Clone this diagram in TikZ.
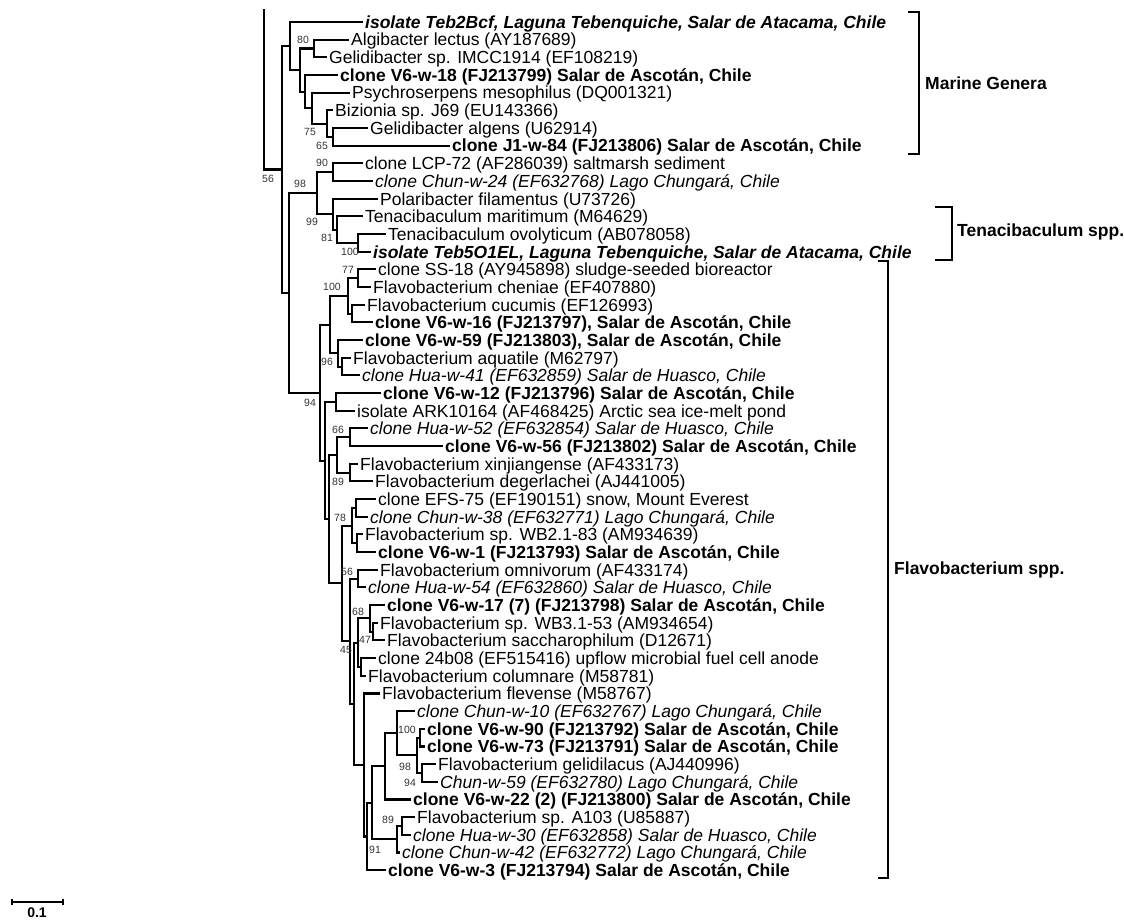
\documentclass[tikz,border=0pt]{standalone}
\usepackage{fontspec}
\setmainfont{Liberation Sans}
\usetikzlibrary{calc}
\begin{document}
\begin{tikzpicture}[x=1pt,y=-1pt,
  br/.style={line width=2.1pt, line join=miter, line cap=rect},
  leaf/.style={anchor=west, inner xsep=3pt, inner ysep=0pt, text height=12.6pt, text depth=0pt, font=\fontsize{17.5}{20}\selectfont},
  bf/.style={leaf, font=\fontsize{17.5}{20}\selectfont\bfseries},
  it/.style={leaf, font=\fontsize{17.5}{20}\selectfont\itshape},
  bi/.style={leaf, font=\fontsize{17.5}{20}\selectfont\bfseries\itshape},
  boot/.style={inner sep=0pt, text=black!80, font=\fontsize{10.5}{12}\selectfont},
  grp/.style={anchor=west, inner sep=0pt, font=\fontsize{17.5}{20}\selectfont\bfseries},
  brk/.style={line width=2.1pt}]
\useasboundingbox (0,0) rectangle (1124,923);

% ---------- leaves ----------
\node[bi]   (L1)  at (362,22.0)  {isolate Teb2Bcf, Laguna Tebenquiche, Salar de Atacama, Chile};
\node[leaf] (L2)  at (348,39.7)  {Algibacter lectus (AY187689)};
\node[leaf] (L3)  at (326,57.3)  {Gelidibacter sp. IMCC1914 (EF108219)};
\node[bf]   (L4)  at (337,75.0)  {clone V6-w-18 (FJ213799) Salar de Ascotán, Chile};
\node[leaf] (L5)  at (349,92.7)  {Psychroserpens mesophilus (DQ001321)};
\node[leaf] (L6)  at (332,110.4) {Bizionia sp. J69 (EU143366)};
\node[leaf] (L7)  at (367,128.0) {Gelidibacter algens (U62914)};
\node[bf]   (L8)  at (449,145.7) {clone J1-w-84 (FJ213806) Salar de Ascotán, Chile};
\node[leaf] (L9)  at (362,163.4) {clone LCP-72 (AF286039) saltmarsh sediment};
\node[it]   (L10) at (372,181.0) {clone Chun-w-24 (EF632768) Lago Chungará, Chile};
\node[leaf] (L11) at (377,198.7) {Polaribacter filamentus (U73726)};
\node[leaf] (L12) at (362,216.4) {Tenacibaculum maritimum (M64629)};
\node[leaf] (L13) at (385,234.0) {Tenacibaculum ovolyticum (AB078058)};
\node[bi]   (L14) at (370,251.7) {isolate Teb5O1EL, Laguna Tebenquiche, Salar de Atacama, Chile};
\node[leaf] (L15) at (375,269.4) {clone SS-18 (AY945898) sludge-seeded bioreactor};
\node[leaf] (L16) at (370,287.1) {Flavobacterium cheniae (EF407880)};
\node[leaf] (L17) at (364,304.7) {Flavobacterium cucumis (EF126993)};
\node[bf]   (L18) at (372,322.4) {clone V6-w-16 (FJ213797), Salar de Ascotán, Chile};
\node[bf]   (L19) at (362,340.1) {clone V6-w-59 (FJ213803), Salar de Ascotán, Chile};
\node[leaf] (L20) at (350,357.7) {Flavobacterium aquatile (M62797)};
\node[it]   (L21) at (359,375.4) {clone Hua-w-41 (EF632859) Salar de Huasco, Chile};
\node[bf]   (L22) at (380,393.1) {clone V6-w-12 (FJ213796) Salar de Ascotán, Chile};
\node[leaf] (L23) at (354,410.7) {isolate ARK10164 (AF468425) Arctic sea ice-melt pond};
\node[it]   (L24) at (367,428.4) {clone Hua-w-52 (EF632854) Salar de Huasco, Chile};
\node[bf]   (L25) at (442,446.1) {clone V6-w-56 (FJ213802) Salar de Ascotán, Chile};
\node[leaf] (L26) at (357,463.8) {Flavobacterium xinjiangense (AF433173)};
\node[leaf] (L27) at (372,481.4) {Flavobacterium degerlachei (AJ441005)};
\node[leaf] (L28) at (375,499.1) {clone EFS-75 (EF190151) snow, Mount Everest};
\node[it]   (L29) at (367,516.8) {clone Chun-w-38 (EF632771) Lago Chungará, Chile};
\node[leaf] (L30) at (362,534.4) {Flavobacterium sp. WB2.1-83 (AM934639)};
\node[bf]   (L31) at (375,552.1) {clone V6-w-1 (FJ213793) Salar de Ascotán, Chile};
\node[leaf] (L32) at (377,569.8) {Flavobacterium omnivorum (AF433174)};
\node[it]   (L33) at (365,587.4) {clone Hua-w-54 (EF632860) Salar de Huasco, Chile};
\node[bf]   (L34) at (384,605.1) {clone V6-w-17 (7) (FJ213798) Salar de Ascotán, Chile};
\node[leaf] (L35) at (377,622.8) {Flavobacterium sp. WB3.1-53 (AM934654)};
\node[leaf] (L36) at (384,640.4) {Flavobacterium saccharophilum (D12671)};
\node[leaf] (L37) at (375,658.1) {clone 24b08 (EF515416) upflow microbial fuel cell anode};
\node[leaf] (L38) at (365,675.8) {Flavobacterium columnare (M58781)};
\node[leaf] (L39) at (379,693.5) {Flavobacterium flevense (M58767)};
\node[it]   (L40) at (414,711.1) {clone Chun-w-10 (EF632767) Lago Chungará, Chile};
\node[bf]   (L41) at (424,728.8) {clone V6-w-90 (FJ213792) Salar de Ascotán, Chile};
\node[bf]   (L42) at (424,746.5) {clone V6-w-73 (FJ213791) Salar de Ascotán, Chile};
\node[leaf] (L43) at (435,764.1) {Flavobacterium gelidilacus (AJ440996)};
\node[it]   (L44) at (437,781.8) {Chun-w-59 (EF632780) Lago Chungará, Chile};
\node[bf]   (L45) at (410,799.5) {clone V6-w-22 (2) (FJ213800) Salar de Ascotán, Chile};
\node[leaf] (L46) at (414,817.1) {Flavobacterium sp. A103 (U85887)};
\node[it]   (L47) at (410,834.8) {clone Hua-w-30 (EF632858) Salar de Huasco, Chile};
\node[it]   (L48) at (399,852.5) {clone Chun-w-42 (EF632772) Lago Chungará, Chile};
\node[bf]   (L49) at (385,870.1) {clone V6-w-3 (FJ213794) Salar de Ascotán, Chile};

% ---------- internal nodes ----------
\coordinate (roottop) at (264,10);
\coordinate (root) at (264,169.5);
\coordinate (nTop) at (282,169.5);
\coordinate (nM1) at (290,46.0);
\coordinate (nM2) at (300,70.0);
\coordinate (n80) at (314,48.5);
\coordinate (nV6) at (305,91.6);
\coordinate (nPsy) at (312,108.2);
\coordinate (nBiz) at (327,123.6);
\coordinate (n65) at (333,136.9);
\coordinate (nRest) at (289,292.9);
\coordinate (n98) at (317,193.2);
\coordinate (n90) at (333,172.2);
\coordinate (nQ) at (333,214.2);
\coordinate (nR) at (337,229.6);
\coordinate (nS) at (358,242.9);
\coordinate (nF) at (320,392.6);
\coordinate (nA) at (330,324.6);
\coordinate (n100) at (348,295.9);
\coordinate (n77) at (358,278.2);
\coordinate (nCU) at (352,313.6);
\coordinate (n96) at (338,353.4);
\coordinate (nAq) at (342,366.6);
\coordinate (nB) at (325,460.6);
\coordinate (nV12) at (336,401.9);
\coordinate (nC) at (329,519.2);
\coordinate (nM) at (337,455.0);
\coordinate (n66) at (350,437.3);
\coordinate (n89a) at (350,472.6);
\coordinate (nD) at (342,583.4);
\coordinate (nE) at (352,525.6);
\coordinate (n78) at (356,508.0);
\coordinate (nW) at (357,543.3);
\coordinate (n45) at (350,641.3);
\coordinate (n56) at (358,578.6);
\coordinate (nI) at (354,703.9);
\coordinate (nH) at (358,642.7);
\coordinate (n68) at (370,618.4);
\coordinate (nWB) at (373,631.6);
\coordinate (nCol) at (361,667.0);
\coordinate (nZ) at (364,765.0);
\coordinate (nY) at (367,836.5);
\coordinate (nX) at (372,802.8);
\coordinate (nV22) at (385,766.4);
\coordinate (nC10) at (397,733.2);
\coordinate (n98b) at (417,755.3);
\coordinate (n100b) at (420,737.7);
\coordinate (n94) at (422,773.0);
\coordinate (n91) at (397,839.2);
\coordinate (n89) at (402,826.0);

% ---------- branches ----------
\draw[br] (roottop) -- (root) -- (nTop);
\draw[br] (nTop) |- (nM1);  \draw[br] (nTop) |- (nRest);
\draw[br] (nM1) |- (L1.west); \draw[br] (nM1) |- (nM2);
\draw[br] (nM2) |- (n80); \draw[br] (nM2) |- (nV6);
\draw[br] (n80) |- (L2.west); \draw[br] (n80) |- (L3.west);
\draw[br] (nV6) |- (L4.west); \draw[br] (nV6) |- (nPsy);
\draw[br] (nPsy) |- (L5.west); \draw[br] (nPsy) |- (nBiz);
\draw[br] (nBiz) |- (L6.west); \draw[br] (nBiz) |- (n65);
\draw[br] (n65) |- (L7.west); \draw[br] (n65) |- (L8.west);
\draw[br] (nRest) |- (n98); \draw[br] (nRest) |- (nF);
\draw[br] (n98) |- (n90); \draw[br] (n98) |- (nQ);
\draw[br] (n90) |- (L9.west); \draw[br] (n90) |- (L10.west);
\draw[br] (nQ) |- (L11.west); \draw[br] (nQ) |- (nR);
\draw[br] (nR) |- (L12.west); \draw[br] (nR) |- (nS);
\draw[br] (nS) |- (L13.west); \draw[br] (nS) |- (L14.west);
\draw[br] (nF) |- (nA); \draw[br] (nF) |- (nB);
\draw[br] (nA) |- (n100); \draw[br] (nA) |- (n96);
\draw[br] (n100) |- (n77); \draw[br] (n100) |- (nCU);
\draw[br] (n77) |- (L15.west); \draw[br] (n77) |- (L16.west);
\draw[br] (nCU) |- (L17.west); \draw[br] (nCU) |- (L18.west);
\draw[br] (n96) |- (L19.west); \draw[br] (n96) |- (nAq);
\draw[br] (nAq) |- (L20.west); \draw[br] (nAq) |- (L21.west);
\draw[br] (nB) |- (nV12); \draw[br] (nB) |- (nC);
\draw[br] (nV12) |- (L22.west); \draw[br] (nV12) |- (L23.west);
\draw[br] (nC) |- (nM); \draw[br] (nC) |- (nD);
\draw[br] (nM) |- (n66); \draw[br] (nM) |- (n89a);
\draw[br] (n66) |- (L24.west); \draw[br] (n66) |- (L25.west);
\draw[br] (n89a) |- (L26.west); \draw[br] (n89a) |- (L27.west);
\draw[br] (nD) |- (nE); \draw[br] (nD) |- (n45);
\draw[br] (nE) |- (n78); \draw[br] (nE) |- (nW);
\draw[br] (n78) |- (L28.west); \draw[br] (n78) |- (L29.west);
\draw[br] (nW) |- (L30.west); \draw[br] (nW) |- (L31.west);
\draw[br] (n45) |- (n56); \draw[br] (n45) |- (nI);
\draw[br] (n56) |- (L32.west); \draw[br] (n56) |- (L33.west);
\draw[br] (nI) |- (nH); \draw[br] (nI) |- (nZ);
\draw[br] (nH) |- (n68); \draw[br] (nH) |- (nCol);
\draw[br] (n68) |- (L34.west); \draw[br] (n68) |- (nWB);
\draw[br] (nWB) |- (L35.west); \draw[br] (nWB) |- (L36.west);
\draw[br] (nCol) |- (L37.west); \draw[br] (nCol) |- (L38.west);
\draw[br] (nZ) |- (L39.west); \draw[br] (nZ) |- (nY);
\draw[br] (nY) |- (nX); \draw[br] (nY) |- (L49.west);
\draw[br] (nX) |- (nV22); \draw[br] (nX) |- (n91);
\draw[br] (nV22) |- (nC10); \draw[br] (nV22) |- (L45.west);
\draw[br] (nC10) |- (L40.west); \draw[br] (nC10) |- (n98b);
\draw[br] (n98b) |- (n100b); \draw[br] (n98b) |- (n94);
\draw[br] (n100b) |- (L41.west); \draw[br] (n100b) |- (L42.west);
\draw[br] (n94) |- (L43.west); \draw[br] (n94) |- (L44.west);
\draw[br] (n91) |- (n89); \draw[br] (n91) |- (L48.west);
\draw[br] (n89) |- (L46.west); \draw[br] (n89) |- (L47.west);

% ---------- bootstrap values ----------
\node[boot] (b1) at (303,40) {80};
\node[boot] (b2) at (310,132) {75};
\node[boot] (b3) at (322,146) {65};
\node[boot] (b4) at (268,179) {56};
\node[boot] (b5) at (322,163) {90};
\node[boot] (b6) at (300,184) {98};
\node[boot] (b7) at (312,222) {99};
\node[boot] (b8) at (327,238) {81};
\node[boot] (b9) at (350,252) {100};
\node[boot] (b10) at (348,270) {77};
\node[boot] (b11) at (332,287) {100};
\node[boot] (b12) at (327,362) {96};
\node[boot] (b13) at (310,403) {94};
\node[boot] (b14) at (338,430) {66};
\node[boot] (b15) at (338,482) {89};
\node[boot] (b16) at (340,518) {78};
\node[boot] (b17) at (347,572) {56};
\node[boot] (b18) at (358,612) {68};
\node[boot] (b19) at (365,640) {47};
\node[boot] (b20) at (346,650) {45};
\node[boot] (b21) at (407,730) {100};
\node[boot] (b22) at (405,767) {98};
\node[boot] (b23) at (410,783) {94};
\node[boot] (b24) at (388,820) {89};
\node[boot] (b25) at (375,850) {91};

% ---------- group brackets ----------
\coordinate (mgT) at (908,12);  \coordinate (mgB) at (908,154);
\draw[brk] (mgT) -| (919,83) |- (mgB);
\node[grp] (mg) at (925,83) {Marine Genera};
\coordinate (tbT) at (935,207); \coordinate (tbB) at (935,260);
\draw[brk] (tbT) -| (952,233) |- (tbB);
\node[grp] (tb) at (957,232) {Tenacibaculum spp.};
\coordinate (fbT) at (878,261); \coordinate (fbB) at (878,878);
\draw[brk] (fbT) -| (888,570) |- (fbB);
\node[grp] (fb) at (894,570) {Flavobacterium spp.};

% ---------- scale bar ----------
\coordinate (sbL) at (12,902); \coordinate (sbR) at (63,902);
\draw[line width=1.8pt] (sbL) -- (sbR);
\draw[line width=1.8pt] ($(sbL)+(0,-3)$) -- ($(sbL)+(0,3)$);
\draw[line width=1.8pt] ($(sbR)+(0,-3)$) -- ($(sbR)+(0,3)$);
\node[inner sep=0pt, anchor=north, font=\fontsize{14}{16}\selectfont\bfseries] (sbt) at (37,908) {0.1};
\end{tikzpicture}
\end{document}
